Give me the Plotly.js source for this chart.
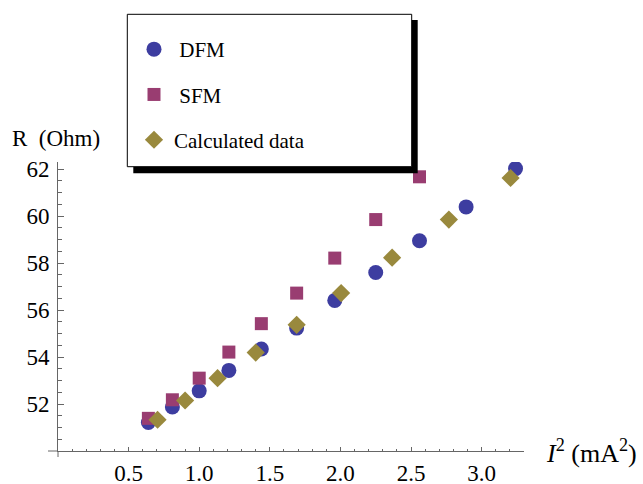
<!DOCTYPE html>
<html>
<head>
<meta charset="utf-8">
<script src="https://cdn.plot.ly/plotly-3.0.1.min.js"></script>
<style>html,body{margin:0;padding:0;background:#fff;}</style>
</head>
<body>
<div id="chart" style="width:643px;height:484px;"></div>
<script>
// ---- data ----
const dfmX = [0.64, 0.81, 1.00, 1.21, 1.44, 1.69, 1.96, 2.25, 2.56, 2.89, 3.24];
const dfmY = [51.21, 51.87, 52.56, 53.43, 54.34, 55.23, 56.41, 57.60, 58.95, 60.39, 62.02];
const sfmX = [0.64, 0.81, 1.00, 1.21, 1.44, 1.69, 1.96, 2.25, 2.56];
const sfmY = [51.39, 52.18, 53.10, 54.21, 55.42, 56.72, 58.21, 59.85, 61.67];
const calcX = [0.705, 0.90, 1.13, 1.40, 1.69, 2.005, 2.366, 2.768, 3.205];
const calcY = [51.33, 52.15, 53.10, 54.19, 55.37, 56.72, 58.23, 59.85, 61.62];
const xTickVals = [0.5, 1.0, 1.5, 2.0, 2.5, 3.0];
const xTickText = ['0.5', '1.0', '1.5', '2.0', '2.5', '3.0'];
const yTickVals = [52, 54, 56, 58, 60, 62];
const yTickText = ['52', '54', '56', '58', '60', '62'];
const seriesNames = ['\u00a0DFM', '\u00a0SFM', 'Calculated data'];

// ---- layout geometry (pixels) ----
const W = 643, H = 484;
const M = {l: 58, r: 119, t: 162, b: 33};
const PW = W - M.l - M.r, PH = H - M.t - M.b;
const px = x => (x - M.l) / PW;
const py = y => (H - M.b - y) / PH;

const FONT = 'Liberation Serif';
const AX = '#666';

const traces = [
  {x: dfmX, y: dfmY, name: seriesNames[0], type: 'scatter', mode: 'markers', legendgroup: 'a',
   marker: {symbol: 'circle', size: 15, color: 'rgb(61,61,160)'}},
  {x: sfmX, y: sfmY, name: seriesNames[1], type: 'scatter', mode: 'markers', legendgroup: 'b',
   marker: {symbol: 'square', size: 13, color: 'rgb(153,61,113)'}},
  {x: calcX, y: calcY, name: seriesNames[2], type: 'scatter', mode: 'markers', legendgroup: 'c',
   marker: {symbol: 'diamond', size: 14, color: 'rgb(153,137,61)'}}
];

const layout = {
  width: W, height: H,
  margin: M,
  paper_bgcolor: '#fff', plot_bgcolor: '#fff',
  font: {family: FONT, size: 22, color: '#000'},
  showlegend: true,
  legend: {
    x: px(134), y: py(29), xanchor: 'left', yanchor: 'top',
    bgcolor: 'rgba(0,0,0,0)', borderwidth: 0,
    font: {family: FONT, size: 21, color: '#000'},
    traceorder: 'grouped', tracegroupgap: 15
  },
  xaxis: {
    range: [0, 3.3], showgrid: false, zeroline: false,
    showline: true, linecolor: AX, linewidth: 1,
    ticks: 'inside', ticklen: 4, tickcolor: AX, tickwidth: 1,
    tickmode: 'array', tickvals: xTickVals, ticktext: xTickText,
    minor: {dtick: 0.1, tick0: 0, ticks: 'inside', ticklen: 2.5, tickcolor: AX, showgrid: false},
    tickfont: {family: FONT, size: 23, color: '#000'},
    ticklabelstandoff: 1
  },
  yaxis: {
    range: [50, 62.3], showgrid: false, zeroline: false,
    showline: true, linecolor: AX, linewidth: 1,
    ticks: 'inside', ticklen: 6, tickcolor: AX, tickwidth: 1,
    tickmode: 'array', tickvals: yTickVals, ticktext: yTickText,
    minor: {dtick: 0.5, tick0: 50, ticks: 'inside', ticklen: 3.5, tickcolor: AX, showgrid: false},
    tickfont: {family: FONT, size: 23, color: '#000'},
    ticklabelstandoff: 3
  },
  shapes: [
    {type: 'line', xref: 'paper', yref: 'paper', x0: px(48), x1: 0, y0: 0, y1: 0,
     line: {color: AX, width: 1}},
    {type: 'line', xref: 'paper', yref: 'paper', x0: 0, x1: 0, y0: py(457), y1: 0,
     line: {color: AX, width: 1}},
    {type: 'rect', xref: 'paper', yref: 'paper', layer: 'above',
     x0: px(133.3), x1: px(417.7), y0: py(173.3), y1: py(20),
     fillcolor: '#000', line: {width: 0}},
    {type: 'rect', xref: 'paper', yref: 'paper', layer: 'above',
     x0: px(127.3), x1: px(411.7), y0: py(166.7), y1: py(14.3),
     fillcolor: '#fff', line: {color: '#000', width: 1}}
  ],
  annotations: [
    {text: 'R\u00a0 (Ohm)', xref: 'paper', yref: 'paper', x: px(10), y: py(138),
     xanchor: 'left', yanchor: 'middle', showarrow: false,
     font: {family: FONT, size: 23, color: '#000'}},
    {text: '<i>I</i><sup>2</sup>\u00a0(mA<sup>2</sup>)', xref: 'paper', yref: 'paper', x: px(544), y: py(451),
     xanchor: 'left', yanchor: 'middle', showarrow: false,
     font: {family: FONT, size: 26, color: '#000'}}
  ]
};

Plotly.newPlot('chart', traces, layout, {displayModeBar: false, staticPlot: true});
</script>
</body>
</html>
